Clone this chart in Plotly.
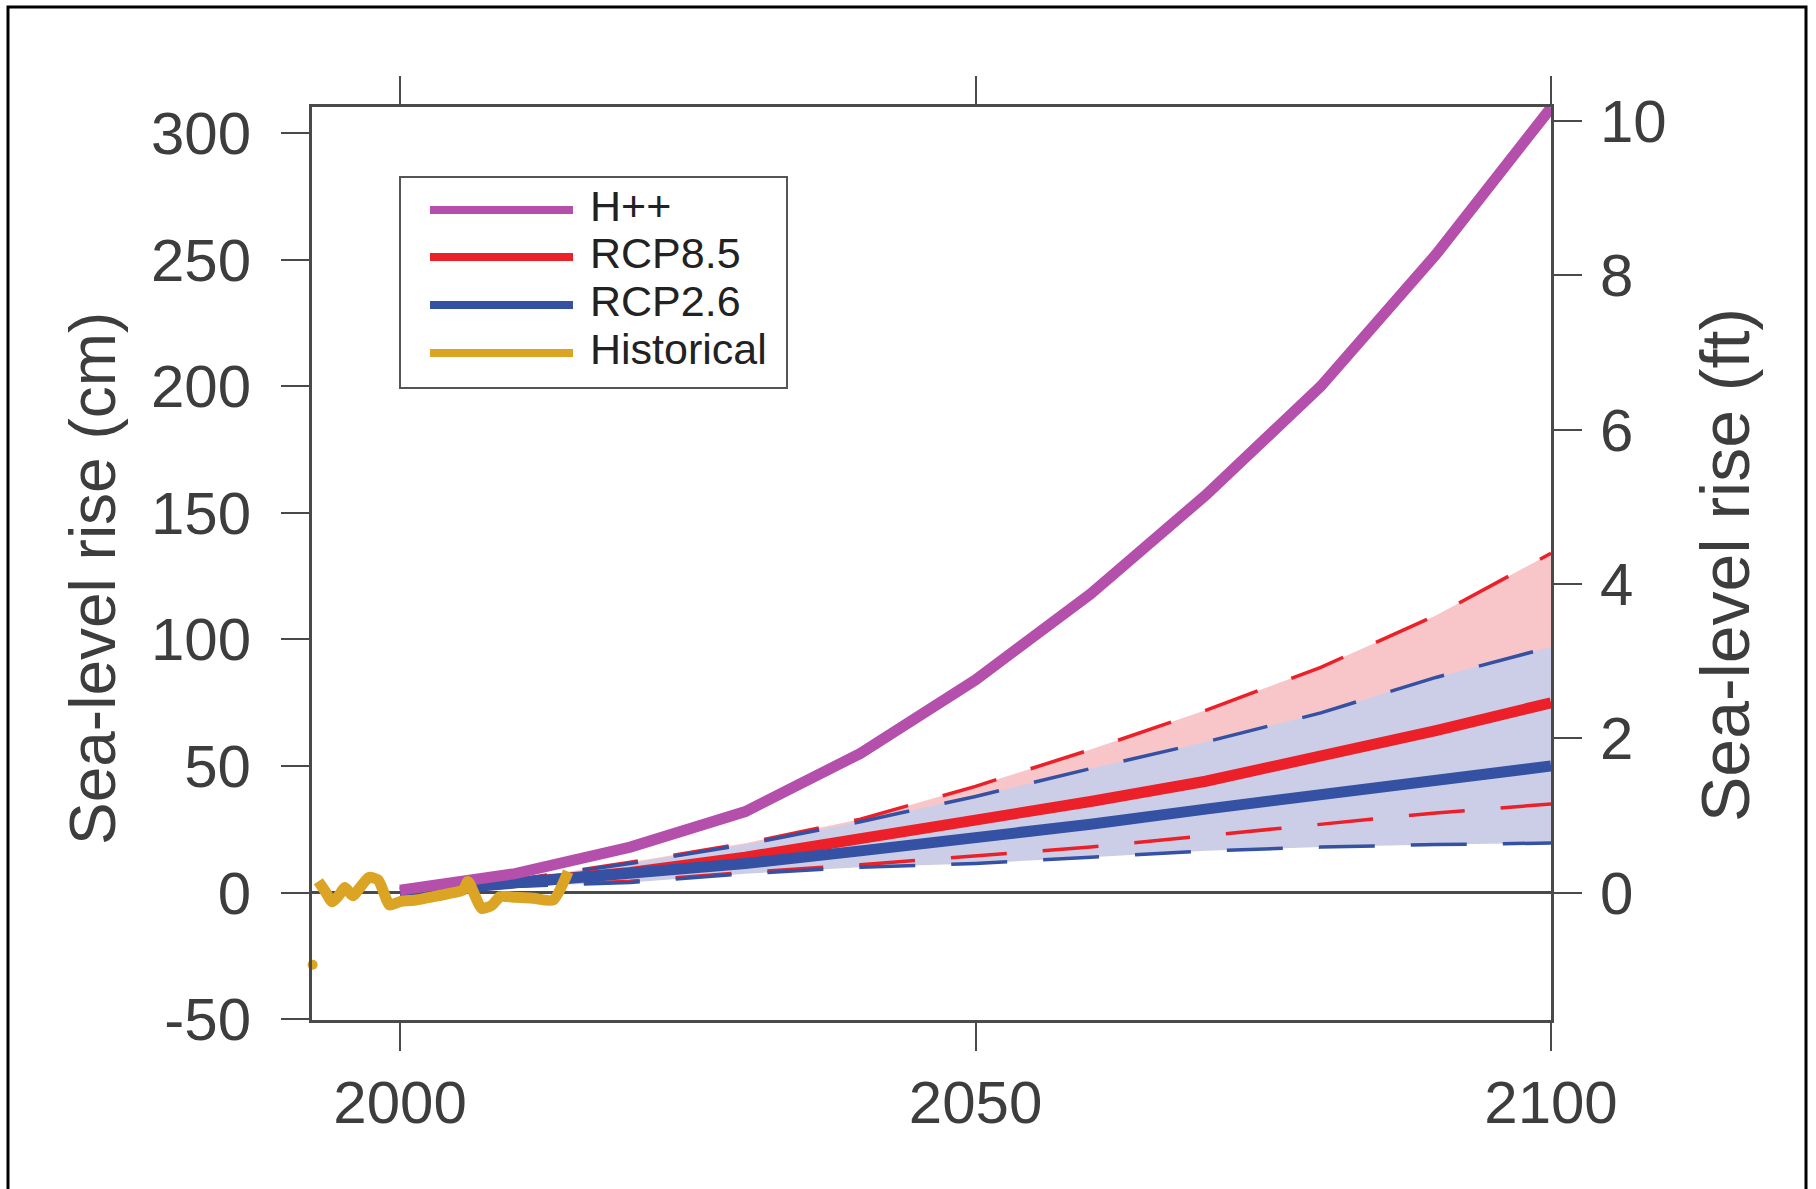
import plotly.graph_objects as go

# ---------------- data ----------------
proj_years = [2000, 2010, 2020, 2030, 2040, 2050, 2060, 2070, 2080, 2090, 2100]
hpp_cm     = [1, 7.5, 18, 32, 55, 84, 118, 157, 200, 252, 310]
rcp85_med  = [0, 3.5, 8, 14, 21, 28.5, 36, 44, 53.5, 64, 75]
rcp26_med  = [0, 3.5, 7, 11.5, 16.5, 21.5, 27, 33, 39, 44.5, 50]
rcp85_hi   = [0, 5, 12, 19.5, 29, 42, 56.5, 72, 89, 109.5, 134]
rcp85_lo   = [0, 2.5, 4.5, 8, 11, 14.5, 18, 22.5, 27, 31.5, 35]
rcp26_hi   = [0, 5, 11.5, 19, 28, 38, 49, 59.5, 71, 85, 97]
rcp26_lo   = [0, 2.5, 4, 7.5, 10, 11.5, 14, 16.5, 18, 19, 19.6]

hist_years = [1992.9, 1993.5, 1994.1, 1994.7, 1995.2, 1995.9, 1996.6, 1997.3, 1998.1,
              1999.1, 2000.0, 2001.4, 2002.9, 2004.3, 2005.5, 2005.9, 2007.1, 2008.0,
              2008.7, 2010.0, 2011.6, 2013.3, 2014.6]
hist_cm    = [4.5, 0.5, -3.6, -1.0, 2.0, -1.2, 2.5, 6.0, 5.0, -4.9, -3.5, -2.9, -1.6,
              -0.3, 1.1, 4.4, -6.2, -4.9, -1.6, -1.8, -2.2, -2.9, 8.3]
hist_early_year = [1992.4]
hist_early_cm   = [-28.5]

x_ticks = [2000, 2050, 2100]
cm_ticks = [-50, 0, 50, 100, 150, 200, 250, 300]
cm_tick_text = ["-50", "0", "50", "100", "150", "200", "250", "300"]
ft_ticks = [0, 2, 4, 6, 8, 10]
legend_names = ["H++", "RCP8.5", "RCP2.6", "Historical"]

CM_PER_FT = 30.48
x_range = [1992.35, 2100.0]
cm_range = [-50.3, 310.3]

# ---------------- style ----------------
C_HPP = "#b44fab"
C_R85 = "#ec2028"
C_R26 = "#3551a4"
C_HIST = "#dca425"
F_R85 = "#f8c6c8"
F_R26 = "#cccee7"
AX = "#4a4a4a"
TXT = "#3d3d3d"
FONT = "Liberation Sans, Arial, Helvetica, sans-serif"

W, H = 1816, 1189
L, R, T, B = 312, 1551, 107, 1020


def px_x(p):
    return (p - L) / (R - L)


def px_y(p):
    return (B - p) / (B - T)


fig = go.Figure()

# bands
fig.add_trace(go.Scatter(x=proj_years, y=rcp85_lo, mode="lines", line=dict(width=0),
                         hoverinfo="skip"))
fig.add_trace(go.Scatter(x=proj_years, y=rcp85_hi, mode="lines", line=dict(width=0),
                         fill="tonexty", fillcolor=F_R85, hoverinfo="skip"))
fig.add_trace(go.Scatter(x=proj_years, y=rcp26_lo, mode="lines", line=dict(width=0),
                         hoverinfo="skip"))
fig.add_trace(go.Scatter(x=proj_years, y=rcp26_hi, mode="lines", line=dict(width=0),
                         fill="tonexty", fillcolor=F_R26, hoverinfo="skip"))

# dashed range bounds
dash = "56px,36px"
for ys, c in [(rcp85_hi, C_R85), (rcp26_hi, C_R26), (rcp85_lo, C_R85), (rcp26_lo, C_R26)]:
    fig.add_trace(go.Scatter(x=proj_years, y=ys, mode="lines",
                             line=dict(color=c, width=3.5, dash=dash)))

# medians
fig.add_trace(go.Scatter(x=proj_years, y=rcp85_med, mode="lines", name="RCP8.5",
                         line=dict(color=C_R85, width=11)))
fig.add_trace(go.Scatter(x=proj_years, y=rcp26_med, mode="lines", name="RCP2.6",
                         line=dict(color=C_R26, width=11)))
fig.add_trace(go.Scatter(x=proj_years, y=hpp_cm, mode="lines", name="H++",
                         line=dict(color=C_HPP, width=11)))
fig.add_trace(go.Scatter(x=hist_years, y=hist_cm, mode="lines", name="Historical",
                         line=dict(color=C_HIST, width=11, shape="spline", smoothing=0.6)))
fig.add_trace(go.Scatter(x=hist_early_year, y=hist_early_cm, mode="markers",
                         marker=dict(color=C_HIST, size=10), cliponaxis=False))

# secondary axis trace (invisible) to bind yaxis2
fig.add_trace(go.Scatter(x=[x_range[0]], y=[0], yaxis="y2", mode="markers",
                         marker=dict(opacity=0), hoverinfo="skip"))

tickfont = dict(family=FONT, size=60, color=TXT)
fig.update_layout(
    width=W, height=H,
    margin=dict(l=L, r=W - R, t=T, b=H - B),
    paper_bgcolor="white", plot_bgcolor="white",
    showlegend=False,
    xaxis=dict(range=x_range, tickvals=x_ticks, ticks="outside", ticklen=28,
               tickwidth=2, tickcolor=AX, showline=True, linecolor=AX, linewidth=3,
               mirror="ticks", showgrid=False, zeroline=False, tickfont=tickfont,
               ticklabelstandoff=0),
    yaxis=dict(range=cm_range, tickvals=cm_ticks, ticktext=cm_tick_text,
               ticks="outside", ticklen=28,
               tickwidth=2, tickcolor=AX, showline=True, linecolor=AX, linewidth=3,
               showgrid=False, zeroline=True, zerolinecolor=AX, zerolinewidth=3,
               tickfont=tickfont, ticklabelstandoff=18),
    yaxis2=dict(range=[v / CM_PER_FT for v in cm_range], tickvals=ft_ticks,
                overlaying="y", side="right", ticks="outside", ticklen=28,
                tickwidth=2, tickcolor=AX, showline=True, linecolor=AX, linewidth=3,
                showgrid=False, zeroline=False, tickfont=tickfont,
                ticklabelstandoff=6),
)

# axis titles
fig.add_annotation(text="Sea-level rise (cm)", xref="paper", yref="paper",
                   x=px_x(93), y=px_y(578), textangle=-90, showarrow=False,
                   xanchor="center", yanchor="middle",
                   font=dict(family=FONT, size=64, color=TXT))
fig.add_annotation(text="Sea-level rise (ft)", xref="paper", yref="paper",
                   x=px_x(1725), y=px_y(565), textangle=-90, showarrow=False,
                   xanchor="center", yanchor="middle",
                   font=dict(family=FONT, size=68, color=TXT))

# outer frame (left, top, right)
fig.add_shape(type="rect", xref="paper", yref="paper",
              x0=px_x(8), x1=px_x(1806), y0=px_y(1260), y1=px_y(7),
              line=dict(color="black", width=3), fillcolor="rgba(0,0,0,0)")

# custom legend
fig.add_shape(type="rect", xref="paper", yref="paper",
              x0=px_x(400), x1=px_x(787), y0=px_y(388), y1=px_y(177),
              line=dict(color="#555555", width=2), fillcolor="white", layer="above")
legend_colors = [C_HPP, C_R85, C_R26, C_HIST]
row_y = [210, 257, 305, 353]
for name, col, yy in zip(legend_names, legend_colors, row_y):
    fig.add_shape(type="line", xref="paper", yref="paper",
                  x0=px_x(430), x1=px_x(573), y0=px_y(yy), y1=px_y(yy),
                  line=dict(color=col, width=8), layer="above")
    fig.add_annotation(text=name, xref="paper", yref="paper", x=px_x(588), y=px_y(yy - 4),
                       xanchor="left", yanchor="middle", showarrow=False,
                       font=dict(family=FONT, size=43, color="#222222"))

fig.write_html("out.html")
